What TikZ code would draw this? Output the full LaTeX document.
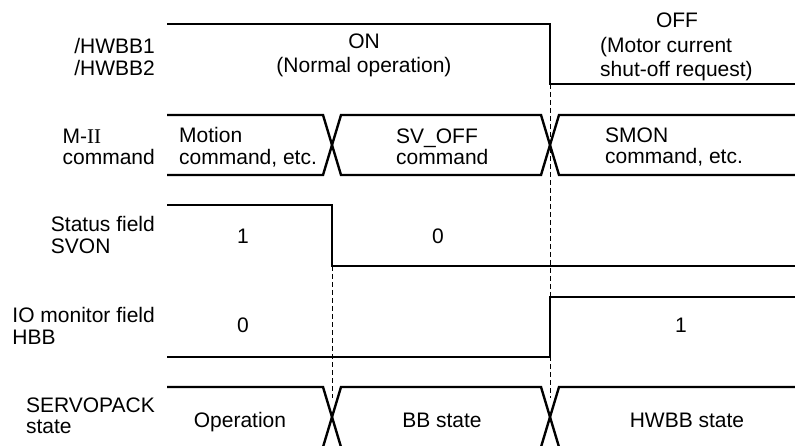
\documentclass[tikz,border=0pt]{standalone}
\usepackage{fontspec}
\setmainfont{Liberation Sans}
\newfontfamily\romfont{Liberation Serif}
\usepackage{tikz}
\usetikzlibrary{positioning, calc}
\newcommand\sigfont{\fontsize{21}{21.5}\selectfont}
\newcommand\hdrfont{\fontsize{21}{24}\selectfont}
\tikzset{
    wave/.style={line width=2.4pt, line join=miter, line cap=butt},
    guide/.style={line width=0.9pt, dash pattern=on 5pt off 3pt},
    siglbl/.style={anchor=east, align=left, font=\sigfont, inner sep=0pt},
    sigval/.style={align=left, font=\sigfont, inner sep=0pt},
    hdrval/.style={font=\hdrfont, inner sep=0pt},
}
\begin{document}
\begin{tikzpicture}[x=1pt, y=-1pt]
    \useasboundingbox (0,0) rectangle (795,446);
        % signal names
        \node[siglbl] (hwbb) at (155,57)  {/HWBB1\\/HWBB2};
        \node[siglbl] (cmd)  at (155,147) {M-{\romfont II}\\command};
        \node[siglbl] (svon) at (155,235) {Status field\\SVON};
        \node[siglbl] (hbb)  at (155,326) {IO monitor field\\HBB};
        \node[siglbl] (spk)  at (155,416) {SERVOPACK\\state};
        % waveforms
        \draw[wave] (167,24) -- (550,24) -- (550,84) -- (795,84);
        \draw[wave] (167,115) -- (323,115) -- (341,175) -- (541,175) -- (559,115) -- (795,115);
        \draw[wave] (167,175) -- (323,175) -- (341,115) -- (541,115) -- (559,175) -- (795,175);
        \draw[wave] (167,205) -- (332,205) -- (332,266) -- (795,266);
        \draw[wave] (167,357) -- (550,357) -- (550,297) -- (795,297);
        \draw[wave] (167,387) -- (323,387) -- (341,447);
        \draw[wave] (323,447) -- (341,387) -- (541,387) -- (559,447);
        \draw[wave] (541,447) -- (559,387) -- (795,387);
        \draw[guide] (332,266) -- (332,398);
        \draw[guide] (550,84) -- (550,398);
        % states
        \node[hdrval, align=center] (on) at (364,55) {ON\\(Normal operation)};
        \node[hdrval, anchor=base] (off) at (677,28) {OFF};
        \node[hdrval, align=left, anchor=west] (offnote) at (600,59.5) {(Motor current\\shut-off request)};
        \node[sigval, anchor=west] (motion) at (179,147) {Motion\\command, etc.};
        \node[sigval, anchor=west] (svoff)  at (396,147) {SV\_OFF\\command};
        \node[sigval, anchor=west] (smon)   at (605,147) {SMON\\command, etc.};
        \node[sigval, anchor=base] (svonhi) at (243,244) {1};
        \node[sigval, anchor=base] (svonlo) at (438,244) {0};
        \node[sigval, anchor=base] (hbblo)  at (243,332) {0};
        \node[sigval, anchor=base] (hbbhi)  at (681,332) {1};
        \node[sigval, anchor=base] (opst)   at (240,427) {Operation};
        \node[sigval, anchor=base] (bbst)   at (442,427) {BB state};
        \node[sigval, anchor=base] (hwst)   at (687,427) {HWBB state};
\end{tikzpicture}
\end{document}
